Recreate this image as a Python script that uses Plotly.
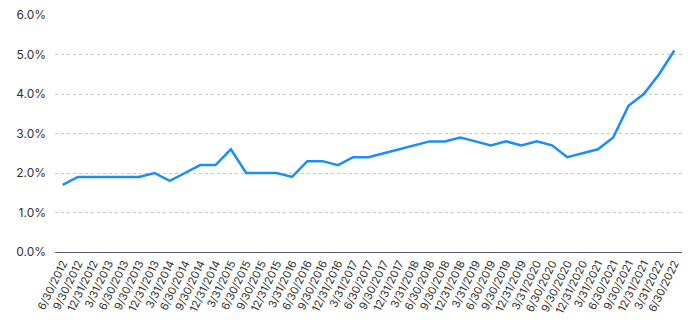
import plotly.graph_objects as go

dates = ["6/30/2012","9/30/2012","12/31/2012","3/31/2013","6/30/2013","9/30/2013","12/31/2013",
         "3/31/2014","6/30/2014","9/30/2014","12/31/2014","3/31/2015","6/30/2015","9/30/2015",
         "12/31/2015","3/31/2016","6/30/2016","9/30/2016","12/31/2016","3/31/2017","6/30/2017",
         "9/30/2017","12/31/2017","3/31/2018","6/30/2018","9/30/2018","12/31/2018","3/31/2019",
         "6/30/2019","9/30/2019","12/31/2019","3/31/2020","6/30/2020","9/30/2020","12/31/2020",
         "3/31/2021","6/30/2021","9/30/2021","12/31/2021","3/31/2022","6/30/2022"]
values = [1.7,1.9,1.9,1.9,1.9,1.9,2.0,1.8,2.0,2.2,2.2,2.6,2.0,2.0,2.0,1.9,2.3,2.3,2.2,2.4,2.4,
          2.5,2.6,2.7,2.8,2.8,2.9,2.8,2.7,2.8,2.7,2.8,2.7,2.4,2.5,2.6,2.9,3.7,4.0,4.5,5.1]
y_ticks = [0, 1, 2, 3, 4, 5, 6]
y_labels = ["0.0%","1.0%","2.0%","3.0%","4.0%","5.0%","6.0%"]

fig = go.Figure()
fig.add_trace(go.Scatter(x=dates, y=values, mode="lines",
                         line=dict(color="#1a8cff", width=2.5), hoverinfo="skip"))

fig.update_layout(
    width=700, height=320,
    margin=dict(l=55, r=18, t=15, b=68, autoexpand=False),
    paper_bgcolor="white", plot_bgcolor="white",
    showlegend=False,
    font=dict(family="Inter, Lato, sans-serif", color="#333333", size=11),
)
fig.update_xaxes(type="category", range=[-0.5, len(dates) - 0.5], tickangle=-64,
                 tickfont=dict(size=11),
                 showgrid=False, showline=False, ticks="", zeroline=False,
                 automargin=False, ticklabelstandoff=2)
fig.update_yaxes(range=[0, 6], tickvals=y_ticks, ticktext=y_labels,
                 tickfont=dict(size=12), showgrid=True, gridcolor="#c8c8c8",
                 griddash="dot", gridwidth=1, zeroline=True, zerolinecolor="#5a5e72",
                 zerolinewidth=1.2, showline=False, ticks="", ticklabelstandoff=8,
                 automargin=False)

fig.write_html("out.html")
